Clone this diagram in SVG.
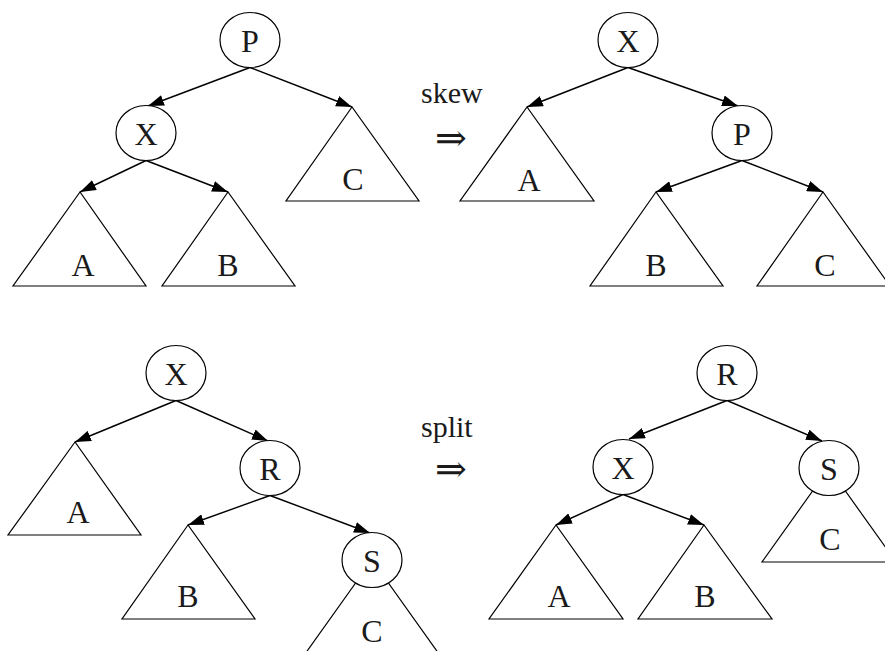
<svg xmlns="http://www.w3.org/2000/svg" width="885" height="651" viewBox="0 0 885 651">
<style>
.tri{fill:none;stroke:#000;stroke-width:1.2}
.node{fill:#fff;stroke:#000;stroke-width:1.2}
.edge{fill:none;stroke:#000;stroke-width:1.4;marker-end:url(#ah)}
.lbl{text-anchor:middle}
</style>
<defs>
<marker id="ah" markerUnits="userSpaceOnUse" markerWidth="16" markerHeight="11" refX="16" refY="5.5" orient="auto">
<path d="M0,0 L16,5.5 L0,11 z" fill="#000"/>
</marker>
</defs>
<rect width="885" height="651" fill="#fff"/>

<g id="subtrees" font-family="Liberation Serif, Times New Roman, serif" font-size="32" fill="#1a1a1a">
<g id="t1-A"><polygon class="tri" points="80,192 13,286 146,286"/><text class="lbl" x="83" y="276">A</text></g>
<g id="t1-B"><polygon class="tri" points="228,192 162,286 295,286"/><text class="lbl" x="228" y="276">B</text></g>
<g id="t1-C"><polygon class="tri" points="352,107 286,201 419,201"/><text class="lbl" x="353" y="190">C</text></g>

<g id="t2-A"><polygon class="tri" points="527,107 460,201 594,201"/><text class="lbl" x="529" y="191">A</text></g>
<g id="t2-B"><polygon class="tri" points="656,192 590,286 723,286"/><text class="lbl" x="656" y="276">B</text></g>
<g id="t2-C"><polygon class="tri" points="823,192 757,286 890,286"/><text class="lbl" x="825" y="276">C</text></g>

<g id="t3-A"><polygon class="tri" points="75,442 8,535 141,535"/><text class="lbl" x="78" y="523">A</text></g>
<g id="t3-B"><polygon class="tri" points="188,525 122,619 255,619"/><text class="lbl" x="188" y="607">B</text></g>
<g id="t3-C"><polygon class="tri" points="372,560 305,654 439,654"/><text class="lbl" x="372" y="642">C</text></g>

<g id="t4-A"><polygon class="tri" points="556,525 489,619 623,619"/><text class="lbl" x="559" y="607">A</text></g>
<g id="t4-B"><polygon class="tri" points="704,525 638,619 772,619"/><text class="lbl" x="705" y="607">B</text></g>
<g id="t4-C"><polygon class="tri" points="829,468 762,562 896,562"/><text class="lbl" x="830" y="550">C</text></g>
</g>

<g id="connectors">
<line class="edge" x1="250" y1="67.5" x2="148" y2="106"/>
<line class="edge" x1="250" y1="67.5" x2="352" y2="107"/>
<line class="edge" x1="146" y1="160.5" x2="80" y2="192"/>
<line class="edge" x1="146" y1="160.5" x2="228" y2="192"/>

<line class="edge" x1="628" y1="67.5" x2="527" y2="107"/>
<line class="edge" x1="628" y1="67.5" x2="738" y2="106"/>
<line class="edge" x1="742" y1="160.5" x2="656" y2="192"/>
<line class="edge" x1="742" y1="160.5" x2="823" y2="192"/>

<line class="edge" x1="176" y1="400.5" x2="75" y2="442"/>
<line class="edge" x1="176" y1="400.5" x2="268" y2="441"/>
<line class="edge" x1="270" y1="495.5" x2="188" y2="525"/>
<line class="edge" x1="270" y1="495.5" x2="370" y2="533"/>

<line class="edge" x1="727" y1="400.5" x2="629" y2="439"/>
<line class="edge" x1="727" y1="400.5" x2="822" y2="441"/>
<line class="edge" x1="623" y1="494.5" x2="556" y2="525"/>
<line class="edge" x1="623" y1="494.5" x2="704" y2="525"/>
</g>

<g id="nodes" font-family="Liberation Serif, Times New Roman, serif" font-size="32" fill="#1a1a1a">
<g id="n1-P"><ellipse class="node" cx="250" cy="40" rx="30" ry="27.5"/><text class="lbl" x="250" y="52">P</text></g>
<g id="n1-X"><ellipse class="node" cx="146" cy="133" rx="30" ry="27.5"/><text class="lbl" x="146" y="145">X</text></g>

<g id="n2-X"><ellipse class="node" cx="628" cy="40" rx="30" ry="27.5"/><text class="lbl" x="628" y="52">X</text></g>
<g id="n2-P"><ellipse class="node" cx="742" cy="133" rx="30" ry="27.5"/><text class="lbl" x="742" y="145">P</text></g>

<g id="n3-X"><ellipse class="node" cx="176" cy="373" rx="30" ry="27.5"/><text class="lbl" x="176" y="385">X</text></g>
<g id="n3-R"><ellipse class="node" cx="270" cy="468" rx="30" ry="27.5"/><text class="lbl" x="270" y="480">R</text></g>
<g id="n3-S"><ellipse class="node" cx="372" cy="560" rx="30" ry="27.5"/><text class="lbl" x="372" y="572">S</text></g>

<g id="n4-R"><ellipse class="node" cx="727" cy="373" rx="30" ry="27.5"/><text class="lbl" x="727" y="385">R</text></g>
<g id="n4-X"><ellipse class="node" cx="623" cy="467" rx="30" ry="27.5"/><text class="lbl" x="623" y="479">X</text></g>
<g id="n4-S"><ellipse class="node" cx="829" cy="468" rx="30" ry="27.5"/><text class="lbl" x="829" y="480">S</text></g>
</g>

<g id="ops" fill="#1a1a1a">
<g id="op-skew"><text x="421" y="103" font-family="Liberation Serif, Times New Roman, serif" font-size="30">skew</text><text x="451" y="151" text-anchor="middle" font-family="DejaVu Serif, serif" font-size="38">⇒</text></g>
<g id="op-split"><text x="421" y="437" font-family="Liberation Serif, Times New Roman, serif" font-size="30">split</text><text x="451" y="482" text-anchor="middle" font-family="DejaVu Serif, serif" font-size="38">⇒</text></g>
</g>
</svg>
